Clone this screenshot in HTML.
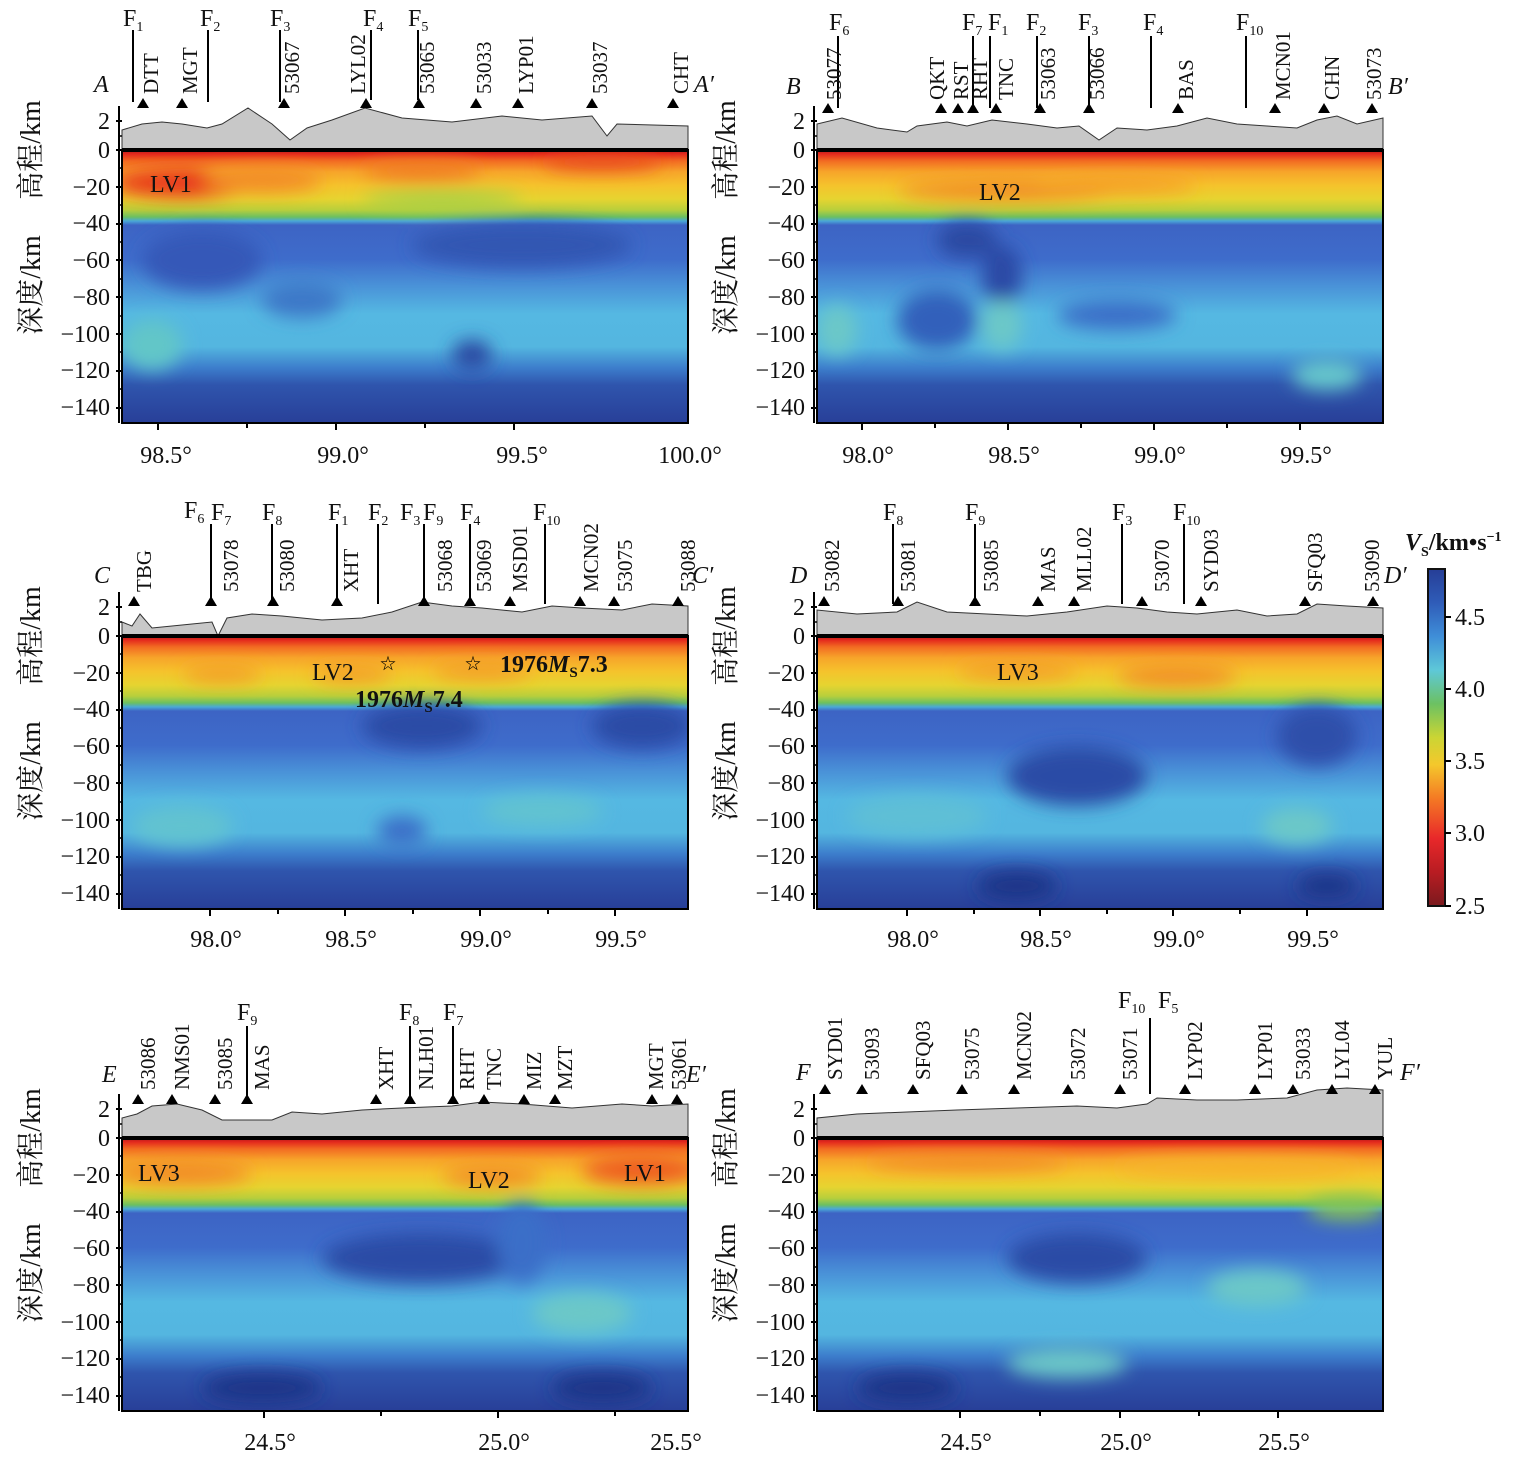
<!DOCTYPE html>
<html><head><meta charset="utf-8"><style>
body{margin:0;background:#fff}
svg{display:block;font-family:"Liberation Serif","Noto Serif CJK SC",serif}
.t{font-size:24px;fill:#111}
.s{font-size:21px;fill:#111}
.c{font-family:"Liberation Serif","Noto Serif CJK SC",serif;font-size:28px;fill:#111}
</style></head><body>
<svg width="1524" height="1461" viewBox="0 0 1524 1461" xmlns="http://www.w3.org/2000/svg">
<defs>
<linearGradient id="vg" x1="0" y1="0" x2="0" y2="1">
<stop offset="0" stop-color="#b3171b"/><stop offset="0.015" stop-color="#e42a1d"/>
<stop offset="0.04" stop-color="#f26b22"/><stop offset="0.08" stop-color="#f7a52a"/>
<stop offset="0.13" stop-color="#f5c32c"/><stop offset="0.18" stop-color="#e6d430"/>
<stop offset="0.22" stop-color="#b8cf3c"/><stop offset="0.245" stop-color="#6cc060"/>
<stop offset="0.26" stop-color="#4aa8d8"/><stop offset="0.275" stop-color="#3d64c4"/>
<stop offset="0.40" stop-color="#3e6ccb"/><stop offset="0.50" stop-color="#4a93d8"/>
<stop offset="0.60" stop-color="#55b8e2"/><stop offset="0.72" stop-color="#54b6e0"/>
<stop offset="0.80" stop-color="#3c7ccb"/><stop offset="0.86" stop-color="#2f55ad"/>
<stop offset="1" stop-color="#283f98"/>
</linearGradient>
<linearGradient id="cb" x1="0" y1="1" x2="0" y2="0">
<stop offset="0" stop-color="#7a1a1e"/><stop offset="0.1" stop-color="#b81c22"/>
<stop offset="0.2" stop-color="#e8282a"/><stop offset="0.32" stop-color="#f47a24"/>
<stop offset="0.42" stop-color="#f4c82c"/><stop offset="0.5" stop-color="#cbd534"/>
<stop offset="0.6" stop-color="#6cc162"/><stop offset="0.7" stop-color="#5ec8d8"/>
<stop offset="0.8" stop-color="#3f8ed8"/><stop offset="0.9" stop-color="#2f5cb8"/>
<stop offset="1" stop-color="#263e96"/>
</linearGradient>
<filter id="bl" x="-50%" y="-50%" width="200%" height="200%"><feGaussianBlur stdDeviation="9"/></filter>
<clipPath id="cp"><rect x="0" y="0" width="566" height="273"/></clipPath>
<g id="ax">
<rect x="0" y="0" width="566" height="273" fill="url(#vg)"/>
</g>
<g id="yt" class="t" text-anchor="end">
<text x="-12" y="-21">2</text><text x="-12" y="8">0</text><text x="-12" y="45">−20</text>
<text x="-12" y="81">−40</text><text x="-12" y="118">−60</text><text x="-12" y="155">−80</text>
<text x="-12" y="192">−100</text><text x="-12" y="228">−120</text><text x="-12" y="265">−140</text>
<path d="M-6,-29H0M-6,0H0M-6,37H0M-6,74H0M-6,110H0M-6,147H0M-6,184H0M-6,221H0M-6,258H0M-3,-44V273" stroke="#000" stroke-width="2" fill="none"/>
<path d="M-4,-14H0M-4,18H0M-4,55H0M-4,92H0M-4,129H0M-4,166H0M-4,202H0M-4,239H0" stroke="#000" stroke-width="1.5"/>
<text class="c" transform="translate(-82,0) rotate(-90)" text-anchor="middle">高程/km</text>
<text class="c" transform="translate(-82,135) rotate(-90)" text-anchor="middle">深度/km</text>
</g>
</defs>

<!-- Panel A -->
<g transform="translate(122,150)">
<path d="M0,0V-20L20,-26L40,-28L60,-26L85,-22L100,-26L126,-42L150,-26L168,-10L185,-22L210,-30L243,-42L280,-32L330,-28L380,-34L420,-30L470,-34L485,-14L495,-26L566,-24V0Z" fill="#c8c8c8" stroke="#333" stroke-width="1"/>
<use href="#ax"/>
<g clip-path="url(#cp)" filter="url(#bl)">
<ellipse cx="60" cy="33" rx="70" ry="14" fill="#e8361e"/>
<ellipse cx="140" cy="30" rx="60" ry="12" fill="#f28a25"/>
<ellipse cx="300" cy="20" rx="60" ry="10" fill="#f07b22"/>
<ellipse cx="480" cy="12" rx="60" ry="8" fill="#e84a1e"/>
<ellipse cx="320" cy="50" rx="80" ry="8" fill="#9fcf48"/>
<ellipse cx="80" cy="110" rx="60" ry="30" fill="#3458b8"/>
<ellipse cx="400" cy="95" rx="110" ry="22" fill="#3156b2"/>
<ellipse cx="350" cy="205" rx="20" ry="15" fill="#2a48a2"/>
<ellipse cx="30" cy="195" rx="30" ry="25" fill="#62c6c8"/>
<ellipse cx="180" cy="150" rx="40" ry="18" fill="#3c78c8"/>
</g>
<rect x="0" y="0" width="566" height="273" fill="none" stroke="#000" stroke-width="2"/>
<line x1="0" y1="0" x2="566" y2="0" stroke="#000" stroke-width="4"/>
<use href="#yt"/>
<text class="t" x="28" y="42">LV1</text>
</g>
<!-- Panel B -->
<g transform="translate(817,150)">
<path d="M0,0V-26L25,-32L60,-22L90,-18L100,-24L130,-28L150,-24L175,-30L210,-26L240,-22L262,-24L282,-10L300,-22L330,-20L360,-24L390,-32L420,-26L450,-24L480,-22L500,-30L520,-34L540,-26L566,-32V0Z" fill="#c8c8c8" stroke="#333" stroke-width="1"/>
<use href="#ax"/>
<g clip-path="url(#cp)" filter="url(#bl)">
<ellipse cx="190" cy="40" rx="110" ry="10" fill="#f28a25"/>
<ellipse cx="300" cy="35" rx="80" ry="8" fill="#f59a28"/>
<ellipse cx="150" cy="90" rx="30" ry="18" fill="#2a48a2"/>
<ellipse cx="185" cy="125" rx="20" ry="30" fill="#2b4aa5"/>
<ellipse cx="185" cy="175" rx="20" ry="25" fill="#6cc8c8"/>
<ellipse cx="120" cy="170" rx="40" ry="30" fill="#3360bb"/>
<ellipse cx="20" cy="180" rx="20" ry="25" fill="#6cc8c8"/>
<ellipse cx="510" cy="225" rx="35" ry="15" fill="#66c8cc"/>
<ellipse cx="300" cy="165" rx="60" ry="15" fill="#3a6ec8"/>
</g>
<rect x="0" y="0" width="566" height="273" fill="none" stroke="#000" stroke-width="2"/>
<line x1="0" y1="0" x2="566" y2="0" stroke="#000" stroke-width="4"/>
<use href="#yt"/>
<text class="t" x="162" y="50">LV2</text>
</g>
<!-- Panel C -->
<g transform="translate(122,636)">
<path d="M0,0V-14L10,-10L18,-22L30,-8L50,-10L70,-12L90,-14L96,0L105,-18L130,-22L160,-20L200,-16L240,-18L270,-24L300,-34L330,-30L360,-28L400,-24L430,-30L460,-28L500,-26L530,-32L566,-30V0Z" fill="#c8c8c8" stroke="#333" stroke-width="1"/>
<use href="#ax"/>
<g clip-path="url(#cp)" filter="url(#bl)">
<ellipse cx="100" cy="38" rx="40" ry="8" fill="#f39a28"/>
<ellipse cx="230" cy="38" rx="40" ry="8" fill="#f39a28"/>
<ellipse cx="360" cy="35" rx="50" ry="8" fill="#f39a28"/>
<ellipse cx="300" cy="90" rx="60" ry="22" fill="#2c4ca6"/>
<ellipse cx="520" cy="90" rx="50" ry="22" fill="#2c4ca6"/>
<ellipse cx="280" cy="195" rx="25" ry="15" fill="#3a6ec8"/>
<ellipse cx="60" cy="190" rx="50" ry="20" fill="#62c3d0"/>
<ellipse cx="420" cy="175" rx="60" ry="15" fill="#62c3d0"/>
</g>
<rect x="0" y="0" width="566" height="273" fill="none" stroke="#000" stroke-width="2"/>
<line x1="0" y1="0" x2="566" y2="0" stroke="#000" stroke-width="4"/>
<use href="#yt"/>
<text class="t" x="190" y="44">LV2</text>
<text x="266" y="33" font-size="16" text-anchor="middle">☆</text>
<text x="351" y="33" font-size="16" text-anchor="middle">☆</text>
<text class="t" x="378" y="36" font-weight="bold">1976<tspan font-style="italic">M</tspan><tspan font-size="15" dy="5">S</tspan><tspan dy="-5">7.3</tspan></text>
<text class="t" x="233" y="71" font-weight="bold" fill="#15404a">1976<tspan font-style="italic">M</tspan><tspan font-size="15" dy="5">S</tspan><tspan dy="-5">7.4</tspan></text>
</g>
<!-- Panel D -->
<g transform="translate(817,636)">
<path d="M0,0V-26L40,-22L80,-24L100,-34L130,-24L170,-22L210,-20L250,-24L290,-30L320,-28L350,-24L380,-22L420,-26L450,-20L480,-22L500,-32L530,-30L566,-28V0Z" fill="#c8c8c8" stroke="#333" stroke-width="1"/>
<use href="#ax"/>
<g clip-path="url(#cp)" filter="url(#bl)">
<ellipse cx="200" cy="35" rx="60" ry="8" fill="#f39a28"/>
<ellipse cx="360" cy="40" rx="60" ry="10" fill="#f28a25"/>
<ellipse cx="260" cy="140" rx="70" ry="30" fill="#2c4ca6"/>
<ellipse cx="500" cy="100" rx="40" ry="30" fill="#2e50aa"/>
<ellipse cx="480" cy="190" rx="35" ry="18" fill="#6cc8c8"/>
<ellipse cx="100" cy="180" rx="70" ry="20" fill="#5ebfd6"/>
<ellipse cx="200" cy="250" rx="40" ry="15" fill="#1f3588"/>
<ellipse cx="510" cy="250" rx="30" ry="12" fill="#1f3588"/>
</g>
<rect x="0" y="0" width="566" height="273" fill="none" stroke="#000" stroke-width="2"/>
<line x1="0" y1="0" x2="566" y2="0" stroke="#000" stroke-width="4"/>
<use href="#yt"/>
<text class="t" x="180" y="44">LV3</text>
</g>
<!-- Panel E -->
<g transform="translate(122,1138)">
<path d="M0,0V-20L15,-24L30,-32L55,-34L80,-28L100,-18L150,-18L170,-26L200,-24L240,-28L280,-30L330,-32L360,-36L400,-34L450,-30L500,-34L530,-32L566,-34V0Z" fill="#c8c8c8" stroke="#333" stroke-width="1"/>
<use href="#ax"/>
<g clip-path="url(#cp)" filter="url(#bl)">
<ellipse cx="60" cy="35" rx="70" ry="12" fill="#f28a25"/>
<ellipse cx="370" cy="38" rx="50" ry="10" fill="#f28a25"/>
<ellipse cx="520" cy="32" rx="60" ry="14" fill="#ee5a20"/>
<ellipse cx="300" cy="120" rx="100" ry="25" fill="#2c4ca6"/>
<ellipse cx="400" cy="105" rx="25" ry="40" fill="#3a6ec8"/>
<ellipse cx="460" cy="175" rx="50" ry="20" fill="#6cc8c8"/>
<ellipse cx="140" cy="250" rx="60" ry="15" fill="#1f3588"/>
<ellipse cx="480" cy="250" rx="50" ry="15" fill="#1f3588"/>
</g>
<rect x="0" y="0" width="566" height="273" fill="none" stroke="#000" stroke-width="2"/>
<line x1="0" y1="0" x2="566" y2="0" stroke="#000" stroke-width="4"/>
<use href="#yt"/>
<text class="t" x="16" y="43">LV3</text><text class="t" x="346" y="50">LV2</text><text class="t" x="502" y="43">LV1</text>
</g>
<!-- Panel F -->
<g transform="translate(817,1138)">
<path d="M0,0V-20L40,-24L90,-26L140,-28L200,-30L260,-32L300,-30L330,-34L340,-40L380,-38L420,-38L470,-40L500,-48L530,-50L566,-48V0Z" fill="#c8c8c8" stroke="#333" stroke-width="1"/>
<use href="#ax"/>
<g clip-path="url(#cp)" filter="url(#bl)">
<ellipse cx="150" cy="25" rx="100" ry="8" fill="#f28a25"/>
<ellipse cx="420" cy="30" rx="120" ry="10" fill="#f6b22a"/>
<ellipse cx="530" cy="70" rx="40" ry="12" fill="#86c456"/>
<ellipse cx="260" cy="120" rx="70" ry="25" fill="#2c4ca6"/>
<ellipse cx="440" cy="150" rx="50" ry="18" fill="#6cc8c8"/>
<ellipse cx="250" cy="225" rx="60" ry="15" fill="#6cc8c8"/>
<ellipse cx="90" cy="250" rx="50" ry="15" fill="#1f3588"/>
</g>
<rect x="0" y="0" width="566" height="273" fill="none" stroke="#000" stroke-width="2"/>
<line x1="0" y1="0" x2="566" y2="0" stroke="#000" stroke-width="4"/>
<use href="#yt"/>
</g>

<!-- X ticks -->
<g class="t" text-anchor="middle">
<text x="166" y="463">98.5°</text><text x="343" y="463">99.0°</text><text x="522" y="463">99.5°</text><text x="690" y="463">100.0°</text>
<text x="868" y="463">98.0°</text><text x="1014" y="463">98.5°</text><text x="1160" y="463">99.0°</text><text x="1306" y="463">99.5°</text>
<text x="216" y="947">98.0°</text><text x="351" y="947">98.5°</text><text x="486" y="947">99.0°</text><text x="621" y="947">99.5°</text>
<text x="913" y="947">98.0°</text><text x="1046" y="947">98.5°</text><text x="1179" y="947">99.0°</text><text x="1313" y="947">99.5°</text>
<text x="270" y="1450">24.5°</text><text x="504" y="1450">25.0°</text><text x="676" y="1450">25.5°</text>
<text x="966" y="1450">24.5°</text><text x="1126" y="1450">25.0°</text><text x="1284" y="1450">25.5°</text>
</g>
<path stroke="#000" stroke-width="2" d="M158,423v7M247,423v5M336,423v7M425,423v5M514,423v7M862,423v7M935,423v5M1008,423v7M1081,423v5M1154,423v7M1227,423v5M1300,423v7M210,909v7M278,909v5M345,909v7M413,909v5M480,909v7M548,909v5M615,909v7M907,909v7M974,909v5M1040,909v7M1107,909v5M1173,909v7M1240,909v5M1307,909v7M264,1411v7M381,1411v5M498,1411v7M615,1411v5M960,1411v7M1040,1411v5M1120,1411v7M1199,1411v5M1278,1411v7"/>

<!-- Section letters -->
<g class="t" font-style="italic">
<text x="94" y="92">A</text><text x="694" y="92">A′</text>
<text x="786" y="94">B</text><text x="1388" y="94">B′</text>
<text x="94" y="583">C</text><text x="692" y="583">C′</text>
<text x="790" y="583">D</text><text x="1384" y="583">D′</text>
<text x="102" y="1082">E</text><text x="686" y="1082">E′</text>
<text x="796" y="1080">F</text><text x="1400" y="1080">F′</text>
</g>

<!-- Faults -->
<g stroke="#000" stroke-width="2">
<path d="M133,30V102M208,30V102M280,30V102M371,30V100M418,30V100"/>
<path d="M838,36V108M973,36V108M990,36V108M1037,36V108M1089,36V108M1151,36V108M1246,36V108"/>
<path d="M211,524V600M272,524V600M337,524V600M378,524V604M424,524V600M470,524V600M545,524V604"/>
<path d="M893,524V604M975,524V604M1122,524V604M1184,524V604"/>
<path d="M247,1026V1100M410,1026V1100M453,1026V1100"/>
<path d="M1150,1018V1094"/>
</g>
<g class="t">
<text x="123" y="26">F<tspan font-size="14" dy="5">1</tspan></text><text x="200" y="26">F<tspan font-size="14" dy="5">2</tspan></text><text x="270" y="26">F<tspan font-size="14" dy="5">3</tspan></text><text x="363" y="26">F<tspan font-size="14" dy="5">4</tspan></text><text x="408" y="26">F<tspan font-size="14" dy="5">5</tspan></text>
<text x="829" y="30">F<tspan font-size="14" dy="5">6</tspan></text><text x="962" y="30">F<tspan font-size="14" dy="5">7</tspan></text><text x="988" y="30">F<tspan font-size="14" dy="5">1</tspan></text><text x="1026" y="30">F<tspan font-size="14" dy="5">2</tspan></text><text x="1078" y="30">F<tspan font-size="14" dy="5">3</tspan></text><text x="1143" y="30">F<tspan font-size="14" dy="5">4</tspan></text><text x="1236" y="30">F<tspan font-size="14" dy="5">10</tspan></text>
<text x="184" y="518">F<tspan font-size="14" dy="5">6</tspan></text><text x="211" y="520">F<tspan font-size="14" dy="5">7</tspan></text><text x="262" y="520">F<tspan font-size="14" dy="5">8</tspan></text><text x="328" y="520">F<tspan font-size="14" dy="5">1</tspan></text><text x="368" y="520">F<tspan font-size="14" dy="5">2</tspan></text><text x="400" y="520">F<tspan font-size="14" dy="5">3</tspan></text><text x="423" y="520">F<tspan font-size="14" dy="5">9</tspan></text><text x="460" y="520">F<tspan font-size="14" dy="5">4</tspan></text><text x="533" y="520">F<tspan font-size="14" dy="5">10</tspan></text>
<text x="883" y="520">F<tspan font-size="14" dy="5">8</tspan></text><text x="965" y="520">F<tspan font-size="14" dy="5">9</tspan></text><text x="1112" y="520">F<tspan font-size="14" dy="5">3</tspan></text><text x="1173" y="520">F<tspan font-size="14" dy="5">10</tspan></text>
<text x="237" y="1020">F<tspan font-size="14" dy="5">9</tspan></text><text x="399" y="1020">F<tspan font-size="14" dy="5">8</tspan></text><text x="443" y="1020">F<tspan font-size="14" dy="5">7</tspan></text>
<text x="1118" y="1008">F<tspan font-size="14" dy="5">10</tspan></text><text x="1158" y="1008">F<tspan font-size="14" dy="5">5</tspan></text>
</g>

<!-- Stations -->
<g fill="#000">
<path d="M143,98l-6,10h12zM182,98l-6,10h12zM284,98l-6,10h12zM366,98l-6,10h12zM419,98l-6,10h12zM476,98l-6,10h12zM518,98l-6,10h12zM592,98l-6,10h12zM673,98l-6,10h12z"/>
<path d="M828,103l-6,10h12zM941,103l-6,10h12zM958,103l-6,10h12zM973,103l-6,10h12zM996,103l-6,10h12zM1040,103l-6,10h12zM1089,103l-6,10h12zM1178,103l-6,10h12zM1275,103l-6,10h12zM1324,103l-6,10h12zM1372,103l-6,10h12z"/>
<path d="M134,596l-6,10h12zM211,596l-6,10h12zM273,596l-6,10h12zM337,596l-6,10h12zM424,596l-6,10h12zM470,596l-6,10h12zM510,596l-6,10h12zM580,596l-6,10h12zM614,596l-6,10h12zM678,596l-6,10h12z"/>
<path d="M824,596l-6,10h12zM898,596l-6,10h12zM975,596l-6,10h12zM1038,596l-6,10h12zM1074,596l-6,10h12zM1142,596l-6,10h12zM1201,596l-6,10h12zM1305,596l-6,10h12zM1373,596l-6,10h12z"/>
<path d="M138,1094l-6,10h12zM172,1094l-6,10h12zM215,1094l-6,10h12zM247,1094l-6,10h12zM376,1094l-6,10h12zM410,1094l-6,10h12zM453,1094l-6,10h12zM484,1094l-6,10h12zM524,1094l-6,10h12zM555,1094l-6,10h12zM652,1094l-6,10h12zM677,1094l-6,10h12z"/>
<path d="M825,1084l-6,10h12zM862,1084l-6,10h12zM913,1084l-6,10h12zM962,1084l-6,10h12zM1014,1084l-6,10h12zM1068,1084l-6,10h12zM1120,1084l-6,10h12zM1185,1084l-6,10h12zM1255,1084l-6,10h12zM1293,1084l-6,10h12zM1332,1084l-6,10h12zM1375,1084l-6,10h12z"/>
</g>
<g class="s">
<text transform="translate(158,94) rotate(-90)">DTT</text><text transform="translate(197,94) rotate(-90)">MGT</text><text transform="translate(299,94) rotate(-90)">53067</text><text transform="translate(365,94) rotate(-90)">LYL02</text><text transform="translate(434,94) rotate(-90)">53065</text><text transform="translate(491,94) rotate(-90)">53033</text><text transform="translate(533,94) rotate(-90)">LYP01</text><text transform="translate(607,94) rotate(-90)">53037</text><text transform="translate(688,94) rotate(-90)">CHT</text>
<text transform="translate(841,100) rotate(-90)">53077</text><text transform="translate(944,100) rotate(-90)">QKT</text><text transform="translate(968,100) rotate(-90)">RST</text><text transform="translate(987,100) rotate(-90)">RHT</text><text transform="translate(1013,100) rotate(-90)">TNC</text><text transform="translate(1055,100) rotate(-90)">53063</text><text transform="translate(1104,100) rotate(-90)">53066</text><text transform="translate(1193,100) rotate(-90)">BAS</text><text transform="translate(1290,100) rotate(-90)">MCN01</text><text transform="translate(1339,100) rotate(-90)">CHN</text><text transform="translate(1381,100) rotate(-90)">53073</text>
<text transform="translate(151,592) rotate(-90)">TBG</text><text transform="translate(238,592) rotate(-90)">53078</text><text transform="translate(294,592) rotate(-90)">53080</text><text transform="translate(358,592) rotate(-90)">XHT</text><text transform="translate(452,592) rotate(-90)">53068</text><text transform="translate(491,592) rotate(-90)">53069</text><text transform="translate(527,592) rotate(-90)">MSD01</text><text transform="translate(598,592) rotate(-90)">MCN02</text><text transform="translate(632,592) rotate(-90)">53075</text><text transform="translate(695,592) rotate(-90)">53088</text>
<text transform="translate(839,592) rotate(-90)">53082</text><text transform="translate(915,592) rotate(-90)">53081</text><text transform="translate(998,592) rotate(-90)">53085</text><text transform="translate(1055,592) rotate(-90)">MAS</text><text transform="translate(1091,592) rotate(-90)">MLL02</text><text transform="translate(1169,592) rotate(-90)">53070</text><text transform="translate(1218,592) rotate(-90)">SYD03</text><text transform="translate(1322,592) rotate(-90)">SFQ03</text><text transform="translate(1379,592) rotate(-90)">53090</text>
<text transform="translate(155,1090) rotate(-90)">53086</text><text transform="translate(189,1090) rotate(-90)">NMS01</text><text transform="translate(232,1090) rotate(-90)">53085</text><text transform="translate(269,1090) rotate(-90)">MAS</text><text transform="translate(393,1090) rotate(-90)">XHT</text><text transform="translate(433,1090) rotate(-90)">NLH01</text><text transform="translate(474,1090) rotate(-90)">RHT</text><text transform="translate(501,1090) rotate(-90)">TNC</text><text transform="translate(541,1090) rotate(-90)">MIZ</text><text transform="translate(572,1090) rotate(-90)">MZT</text><text transform="translate(663,1090) rotate(-90)">MGT</text><text transform="translate(686,1090) rotate(-90)">53061</text>
<text transform="translate(842,1080) rotate(-90)">SYD01</text><text transform="translate(879,1080) rotate(-90)">53093</text><text transform="translate(930,1080) rotate(-90)">SFQ03</text><text transform="translate(979,1080) rotate(-90)">53075</text><text transform="translate(1031,1080) rotate(-90)">MCN02</text><text transform="translate(1085,1080) rotate(-90)">53072</text><text transform="translate(1137,1080) rotate(-90)">53071</text><text transform="translate(1202,1080) rotate(-90)">LYP02</text><text transform="translate(1272,1080) rotate(-90)">LYP01</text><text transform="translate(1310,1080) rotate(-90)">53033</text><text transform="translate(1349,1080) rotate(-90)">LYL04</text><text transform="translate(1392,1080) rotate(-90)">YUL</text>
</g>

<!-- Colorbar -->
<rect x="1428" y="569" width="17" height="337" fill="url(#cb)" stroke="#111" stroke-width="2"/>
<path stroke="#000" stroke-width="2" d="M1445,617h6M1445,689h6M1445,761h6M1445,833h6M1445,906h6"/>
<g class="t"><text x="1455" y="625">4.5</text><text x="1455" y="697">4.0</text><text x="1455" y="769">3.5</text><text x="1455" y="841">3.0</text><text x="1455" y="914">2.5</text></g>
<text x="1405" y="550" class="t" font-weight="bold"><tspan font-style="italic">V</tspan><tspan font-size="14" dy="6">S</tspan><tspan dy="-6">/km•s</tspan><tspan font-size="14" dy="-9">−1</tspan></text>
</svg>
</body></html>
